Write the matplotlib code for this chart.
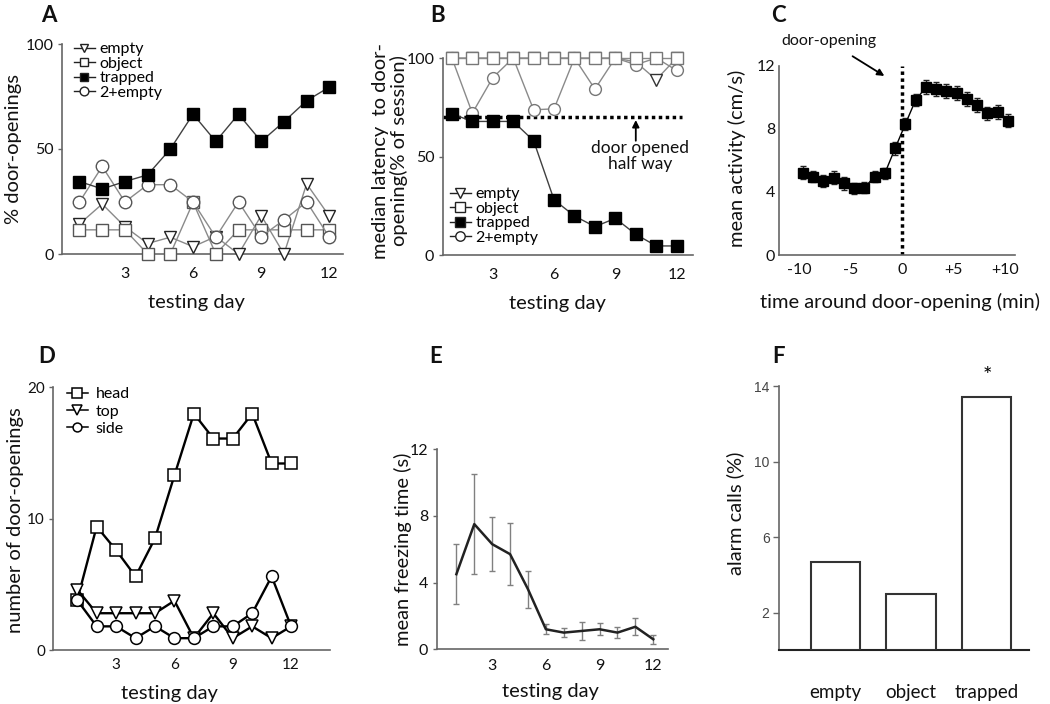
import matplotlib
matplotlib.use('Agg')
import matplotlib.pyplot as plt
import numpy as np

plt.rcParams['font.family'] = ['Lato', 'DejaVu Sans']

# ---------------- data ----------------
days = [1, 2, 3, 4, 5, 6, 7, 8, 9, 10, 11, 12]

# Panel A: % door-openings
a_empty = [14.3, 23.8, 13.0, 5.0, 8.0, 3.5, 8.3, 0.0, 18.3, 0.0, 33.4, 18.0]
a_object = [11.5, 11.5, 11.5, 0.0, 0.0, 24.6, 0.0, 11.5, 11.5, 11.5, 11.5, 11.5]
a_trapped = [34.5, 31.0, 34.5, 37.7, 50.0, 66.6, 53.6, 66.6, 53.6, 63.0, 73.0, 79.5]
a_two_empty = [24.8, 41.7, 24.8, 33.0, 33.0, 24.8, 8.0, 24.8, 8.3, 16.2, 24.8, 8.0]

# Panel B: median latency (% of session)
b_empty = [100, 100, 100, 100, 100, 100, 100, 100, 100, 98, 89, 100]
b_object = [100, 100, 100, 100, 100, 100, 100, 100, 100, 100, 100, 100]
b_trapped = [71.7, 67.8, 67.8, 67.8, 58.0, 28.0, 19.8, 14.4, 18.6, 10.5, 4.6, 4.6]
b_two_empty = [100, 72.0, 90.0, 100, 73.7, 74.2, 100, 84.2, 100, 96.6, 100, 93.7]
b_half_way = 70

# Panel C: mean activity around door-opening
c_time = [-9.7, -8.7, -7.7, -6.7, -5.7, -4.7, -3.7, -2.7, -1.7, -0.7, 0.3,
          1.3, 2.3, 3.3, 4.3, 5.3, 6.3, 7.3, 8.3, 9.3, 10.3]
c_activity = [5.22, 4.97, 4.69, 4.90, 4.54, 4.23, 4.27, 4.97, 5.18, 6.76, 8.30,
              9.82, 10.63, 10.50, 10.42, 10.25, 9.87, 9.50, 8.98, 9.08, 8.51]
c_err = [0.40, 0.35, 0.35, 0.40, 0.40, 0.35, 0.35, 0.35, 0.35, 0.40, 0.40,
         0.40, 0.45, 0.45, 0.45, 0.45, 0.45, 0.45, 0.40, 0.45, 0.40]

# Panel D: number of door-openings by method
d_head = [3.8, 9.4, 7.6, 5.6, 8.5, 13.3, 18.0, 16.1, 16.1, 18.0, 14.2, 14.2]
d_top = [4.6, 2.8, 2.8, 2.8, 2.8, 3.75, 0.9, 2.8, 0.9, 1.8, 0.9, 1.8]
d_side = [3.8, 1.8, 1.8, 0.9, 1.8, 0.9, 0.9, 1.8, 1.8, 2.8, 5.6, 1.8]

# Panel E: mean freezing time
e_freeze = [4.5, 7.5, 6.3, 5.7, 3.6, 1.2, 1.0, 1.1, 1.2, 1.0, 1.35, 0.6]
e_err = [1.8, 3.0, 1.6, 1.85, 1.1, 0.3, 0.28, 0.55, 0.37, 0.35, 0.5, 0.28]

# Panel F: alarm calls
f_groups = ['empty', 'object', 'trapped']
f_alarm = [4.7, 3.0, 13.4]

x_ticks_days = [3, 6, 9, 12]

# ---------------- figure ----------------
W, H = 1050, 704
fig = plt.figure(figsize=(W / 100, H / 100), dpi=100)


def add_ax(l, t, r, b):
    return fig.add_axes([l / W, 1 - b / H, (r - l) / W, (b - t) / H])


SPINE = '#666666'
TXT = '#111111'


def style(ax, xpad, ypad=3, ylen=3, tsize=11.5):
    for s in ['top', 'right']:
        ax.spines[s].set_visible(False)
    for s in ['left', 'bottom']:
        ax.spines[s].set_color(SPINE)
        ax.spines[s].set_linewidth(1.2)
    ax.tick_params(axis='x', length=0, pad=xpad, labelsize=tsize, colors=TXT)
    ax.tick_params(axis='y', length=ylen, width=1.0, pad=ypad, labelsize=tsize,
                   colors=TXT, color=SPINE)


def labels(ax, xl, yl, xpos, ypos, ylinesp=1.2):
    if xl:
        ax.set_xlabel(xl, fontsize=14.5, color=TXT, va='center')
        ax.xaxis.set_label_coords(*xpos)
    ax.set_ylabel(yl, fontsize=14.5, color=TXT, va='center', linespacing=ylinesp)
    ax.yaxis.set_label_coords(*ypos)


def panel_letter(x, y, s):
    fig.text(x / W, 1 - y / H, s, fontsize=16, fontweight='bold', ha='center',
             va='center', color='#111111')


GRAY = '#8a8a8a'
DARK = '#404040'

# ---------- Panel A ----------
axA = add_ax(62, 44, 343, 254)
style(axA, xpad=9)
axA.plot(days, a_empty, '-v', color=GRAY, lw=1, ms=9, mfc='white', mec='#222',
         mew=1, label='empty', clip_on=False, zorder=3)
axA.plot(days, a_object, '-s', color=GRAY, lw=1, ms=9, mfc='white', mec='#555',
         mew=1, label='object', clip_on=False, zorder=3)
axA.plot(days, a_trapped, '-s', color=DARK, lw=1, ms=9, mfc='black', mec='black',
         mew=1, label='trapped', clip_on=False, zorder=4)
axA.plot(days, a_two_empty, '-o', color=GRAY, lw=1, ms=9, mfc='white', mec='#555',
         mew=1, label='2+empty', clip_on=False, zorder=3)
axA.set_xlim(0.23, 12.6)
axA.set_ylim(0, 100)
axA.set_xticks(x_ticks_days)
axA.set_yticks([0, 50, 100])
labels(axA, 'testing day', '% door-openings', (0.48, -0.233), (-0.174, 0.5))
legA = axA.legend(loc='upper left', bbox_to_anchor=(74 / W, 1 - 42 / H),
                  bbox_transform=fig.transFigure, frameon=False, fontsize=11.5,
                  handlelength=1.3, handletextpad=0.3, labelspacing=0.02,
                  borderpad=0, borderaxespad=0, markerscale=0.7)
for ln in legA.get_lines():
    ln.set_color('#222222')
    ln.set_markeredgecolor('#222222')
panel_letter(49, 15, 'A')

# ---------- Panel B ----------
axB = add_ax(442.7, 58, 693, 255)
style(axB, xpad=9)
axB.plot([0.55, 12.25], [b_half_way, b_half_way], color='black', lw=2.5,
         ls=(0, (1, 1)), zorder=2, clip_on=False)
axB.plot(days, b_empty, '-v', color=GRAY, lw=1, ms=8.5, mfc='white', mec='#333',
         mew=1, label='empty', clip_on=False, zorder=3)
axB.plot(days, b_object, '-s', color=GRAY, lw=1, ms=8.5, mfc='white', mec='#777',
         mew=1, label='object', clip_on=False, zorder=4)
axB.plot(days, b_trapped, '-s', color=DARK, lw=1, ms=8.5, mfc='black', mec='black',
         mew=1, label='trapped', clip_on=False, zorder=4)
axB.plot(days, b_two_empty, '-o', color=GRAY, lw=1, ms=8.5, mfc='white', mec='#777',
         mew=1, label='2+empty', clip_on=False, zorder=3)
axB.annotate('', xy=(10, b_half_way - 1.5), xytext=(10, 58),
             arrowprops=dict(arrowstyle='-|>', color='black', lw=1.3,
                             mutation_scale=10, shrinkA=0, shrinkB=0))
axB.text(10.2, 50.3, 'door opened\nhalf way', ha='center', va='center',
         fontsize=12.5, color=TXT, linespacing=1.0)
axB.set_xlim(0.55, 12.8)
axB.set_ylim(0, 100)
axB.set_xticks(x_ticks_days)
axB.set_yticks([0, 50, 100])
labels(axB, 'testing day', 'median latency  to door-\nopening(% of session)',
       (0.457, -0.244), (-0.21, 0.53), ylinesp=1.05)
legB = axB.legend(loc='upper left', bbox_to_anchor=(450 / W, 1 - 187 / H),
                  bbox_transform=fig.transFigure, frameon=False, fontsize=11.5,
                  handlelength=1.3, handletextpad=0.3, labelspacing=0.02,
                  borderpad=0, borderaxespad=0, markerscale=0.8)
for ln in legB.get_lines():
    ln.set_color('#222222')
    ln.set_markeredgecolor('#222222')
panel_letter(438, 15, 'B')

# ---------- Panel C ----------
axC = add_ax(779.3, 65.7, 1015, 255)
style(axC, xpad=6, ypad=3, ylen=0)
axC.plot([0, 0], [0, 12], color='black', lw=2.5, ls=(0, (1, 1)), zorder=2)
axC.errorbar(c_time, c_activity, yerr=c_err, fmt='-s', color='black', lw=1,
             ms=6.5, mfc='black', mec='black', ecolor='#222', elinewidth=1,
             capsize=2, capthick=1, zorder=3)
axC.set_xlim(-12.0, 11.0)
axC.set_ylim(0, 12)
axC.set_xticks([-10, -5, 0, 5, 10])
axC.set_xticklabels(['-10', '-5', '0', '+5', '+10'])
axC.set_yticks([0, 4, 8, 12])
labels(axC, 'time around door-opening (min)', 'mean activity (cm/s)',
       (0.512, -0.248), (-0.18, 0.51))
axC.text(-7.2, 13.55, 'door-opening', ha='center', va='center', fontsize=11.5,
         color=TXT, clip_on=False)
axC.annotate('', xy=(-1.75, 11.35), xytext=(-4.85, 12.6),
             arrowprops=dict(arrowstyle='-|>', color='black', lw=1.3,
                             mutation_scale=10, shrinkA=0, shrinkB=0),
             annotation_clip=False)
panel_letter(778, 15, 'C')

# ---------- Panel D ----------
axD = add_ax(53.3, 387.3, 330, 650)
style(axD, xpad=6, ypad=3, tsize=11)
axD.plot(days, d_head, '-s', color='black', lw=1.7, ms=9, mfc='white', mec='black',
         mew=1.1, label='head', clip_on=False, zorder=3)
axD.plot(days, d_top, '-v', color='black', lw=1.7, ms=9, mfc='white', mec='black',
         mew=1.1, label='top', clip_on=False, zorder=3)
axD.plot(days, d_side, '-o', color='black', lw=1.7, ms=8.5, mfc='white', mec='black',
         mew=1.1, label='side', clip_on=False, zorder=3)
axD.set_xlim(-0.23, 14.0)
axD.set_ylim(0, 20)
axD.set_xticks(x_ticks_days)
axD.set_yticks([0, 10, 20])
labels(axD, 'testing day', 'number of door-openings', (0.42, -0.164), (-0.138, 0.495))
legD = axD.legend(loc='upper left', bbox_to_anchor=(67 / W, 1 - 387 / H),
                  bbox_transform=fig.transFigure, frameon=False, fontsize=11.5,
                  handlelength=1.3, handletextpad=0.5, labelspacing=0.2,
                  borderpad=0, borderaxespad=0, markerscale=0.75)
for ln in legD.get_lines():
    ln.set_linewidth(1.1)
panel_letter(47, 356, 'D')

# ---------- Panel E ----------
axE = add_ax(436.7, 449, 668.3, 649.3)
style(axE, xpad=7, ypad=3)
axE.errorbar(days, e_freeze, yerr=e_err, fmt='-', color='#222222', lw=1.8,
             ecolor='#808080', elinewidth=1, capsize=2.5, capthick=1, zorder=3)
axE.set_xlim(-0.1, 12.84)
axE.set_ylim(0, 12)
axE.set_xticks(x_ticks_days)
axE.set_yticks([0, 4, 8, 12])
labels(axE, 'testing day', 'mean freezing time (s)', (0.49, -0.213), (-0.145, 0.5))
panel_letter(436, 356, 'E')

# ---------- Panel F ----------
axF = add_ax(779.3, 386, 1029.3, 650.3)
style(axF, xpad=24, ypad=3, ylen=4, tsize=10)
xf = np.arange(len(f_groups))
axF.bar(xf, f_alarm, width=0.65, color='white', edgecolor='#333333', lw=1.5,
        zorder=3)
axF.set_xlim(-0.74, 2.56)
axF.set_ylim(0, 14)
axF.set_xticks(xf)
axF.set_xticklabels(f_groups, fontsize=13.5)
axF.set_yticks([2, 6, 10, 14])
for lab in axF.get_yticklabels():
    lab.set_family(['Liberation Sans', 'DejaVu Sans'])
    lab.set_color('#444444')
axF.spines['bottom'].set_color('#222222')
axF.spines['bottom'].set_linewidth(1.5)
labels(axF, None, 'alarm calls (%)', None, (-0.177, 0.52))
axF.text(2, 14.55, '*', ha='center', va='center', fontsize=16, color='black',
         clip_on=False)
panel_letter(778, 356, 'F')

fig.savefig('out.png', dpi=100, facecolor='white')
